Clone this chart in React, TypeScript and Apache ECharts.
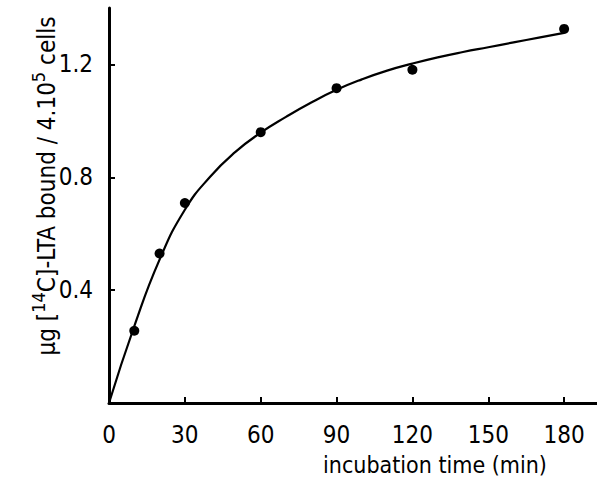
import React, { useEffect, useRef } from "react";
import * as echarts from "echarts";

// Measured binding (time in min, amount bound)
const measuredTime = [10, 20, 30, 60, 90, 120, 180];
const measuredBound = [0.256, 0.53, 0.709, 0.96, 1.116, 1.181, 1.326];

// Fitted saturation curve, sampled every 10 min
const curveTime = [0, 10, 20, 30, 40, 50, 60, 70, 80, 90, 100, 110, 120, 130, 140, 150, 160, 170, 180];
const curveBound = [0, 0.272, 0.508, 0.685, 0.802, 0.89, 0.958, 1.014, 1.065, 1.11, 1.147, 1.178, 1.203, 1.225, 1.244, 1.261, 1.278, 1.295, 1.312];

// Tick values and their printed labels
const xTicks = [0, 30, 60, 90, 120, 150, 180];
const yTicks = [0.4, 0.8, 1.2];
const yTickLabels = ["0.4", "0.8", "1.2"];

const FONT = "'Liberation Sans Narrow', 'DejaVu Sans Condensed', 'Liberation Sans', sans-serif";

export default function App() {
  const ref = useRef<HTMLDivElement>(null);

  useEffect(() => {
    if (!ref.current) return;
    const chart = echarts.init(ref.current, null, { renderer: "svg" });

    const axisLine = { show: true, lineStyle: { color: "#000", width: 3 } };

    chart.setOption({
      animation: false,
      backgroundColor: "#fff",
      grid: { left: 109, right: 0, top: 8, bottom: 76, containLabel: false },
      xAxis: {
        type: "value",
        min: 0,
        max: 193,
        interval: 30,
        axisLine,
        splitLine: { show: false },
        axisTick: {
          show: true,
          inside: true,
          length: 6,
          lineStyle: { color: "#000", width: 2 },
          customValues: xTicks.slice(1),
        },
        axisLabel: {
          color: "#000",
          fontFamily: FONT,
          fontSize: 24,
          margin: 20,
          customValues: xTicks,
          formatter: (v: number) => String(v),
        },
      },
      yAxis: {
        type: "value",
        min: 0,
        max: 1.4,
        interval: 0.4,
        axisLine,
        splitLine: { show: false },
        axisTick: {
          show: true,
          inside: true,
          length: 6,
          lineStyle: { color: "#000", width: 2 },
          customValues: yTicks,
        },
        axisLabel: {
          color: "#000",
          fontFamily: FONT,
          fontSize: 24,
          margin: 16,
          customValues: yTicks,
          formatter: (v: number) => {
            const i = yTicks.findIndex((t) => Math.abs(t - v) < 1e-6);
            return i >= 0 ? yTickLabels[i] : "";
          },
        },
      },
      series: [
        {
          type: "line",
          data: curveTime.map((t, i) => [t, curveBound[i]]),
          smooth: 0.5,
          showSymbol: false,
          lineStyle: { color: "#000", width: 2.2 },
          z: 2,
        },
        {
          type: "scatter",
          data: measuredTime.map((t, i) => [t, measuredBound[i]]),
          symbol: "circle",
          symbolSize: 10,
          itemStyle: { color: "#000", opacity: 1 },
          z: 3,
        },
      ],
      graphic: [
        {
          type: "text",
          x: 435,
          y: 465,
          style: {
            text: "incubation time (min)",
            fill: "#000",
            font: `23px ${FONT}`,
            align: "center",
            verticalAlign: "middle",
          },
        },
        {
          type: "text",
          x: 44,
          y: 186,
          rotation: Math.PI / 2,
          style: {
            text: "{n|μg [}{s|14}{n|C]-LTA bound / 4.10}{s|5}{n| cells}",
            fill: "#000",
            align: "center",
            verticalAlign: "middle",
            rich: {
              n: { fontFamily: FONT, fontSize: 24, fill: "#000", verticalAlign: "bottom", lineHeight: 30 },
              s: { fontFamily: FONT, fontSize: 18, fill: "#000", verticalAlign: "top", lineHeight: 30, padding: [0, 0, 10, 0] },
            },
          },
        },
      ],
    });

    return () => chart.dispose();
  }, []);

  return (
    <div
      ref={ref}
      style={{ position: "fixed", left: 0, top: 0, width: 597, height: 479, background: "#fff" }}
    />
  );
}
